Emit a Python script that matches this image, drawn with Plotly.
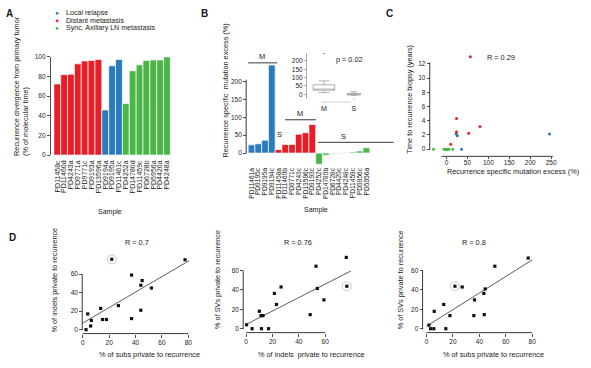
import numpy as np
import plotly.graph_objects as go

W, H = 591, 368
FONT = "Liberation Sans, Arial, sans-serif"
BLUE = "#2a7bbb"
RED = "#e61e27"
GREEN = "#4bb648"
GROUP_COLORS = {"L": BLUE, "D": RED, "S": GREEN}

# ---------------- data ----------------
# Panel A
a_samples = ["PD11458c", "PD11460d", "PD4243a", "PD9771a", "PD9771c", "PD9193a", "PD13596a",
             "PD9194a", "PD9195a", "PD11461c",
             "PD4252a", "PD14780d", "PD11459c", "PD6728b", "PD5956a", "PD4420a", "PD4248a"]
a_values = [72.5, 82, 82.5, 93, 96, 96.5, 97.5,
            46, 91, 97.5,
            52.5, 86, 92, 96.5, 97, 97, 100]
a_groups = ["D"] * 7 + ["L"] * 3 + ["S"] * 7

# Panel B
b_samples = ["PD11461a", "PD9195c", "PD9195a", "PD9194c",
             "PD11458a", "PD11460b", "PD9771c", "PD4243c", "PD13596c", "PD9193c",
             "PD4252c", "PD14780b", "PD6728c", "PD4420c", "PD4248c", "PD11459c", "PD5956c", "PD5956a"]
b_values = [23, 26, 36, 246,
            10, 24, 24, 53, 57, 80,
            -31, -6, -2, -1, 1, 3, 6, 15]
b_groups = ["L"] * 4 + ["D"] * 6 + ["S"] * 8
b_class = ["M"] * 10 + ["S"] * 8
b_pvalue = "p = 0.02"

# Panel C (x = recurrence specific mutation excess, same samples as B)
c_years = [2.15, 1.9, 0.0, 2.15,
           0.7, 4.3, 2.4, 2.25, 13.0, 3.2,
           0.0, 0.0, 0.0, 0.0, 0.0, 0.0, 0.0, 0.0]
c_r = "R = 0.29"

# Panel D
d1_subs = [22, 77.5, 37, 45, 44, 52, 13.6, 27, 44, 3.8, 6.5, 15, 18, 37, 6, 2.5]
d1_indels = [76, 75.5, 59, 53, 48, 45, 23, 26, 21, 17, 10, 11, 11, 12, 4, 0]
d1_circled = [0]
d2_indels = [76, 53, 76.4, 26.5, 21.4, 54, 59, 23, 10, 11.3, 12.8, 48.6, 0.3, 4.5, 11.6, 17]
d2_svs = [73.5, 64.4, 43.8, 43, 36.4, 41.5, 29.7, 25, 18, 13.5, 13.5, 14.5, 4, 0, 0, 0]
d2_circled = [2]
d3_subs = [77, 51.7, 21.5, 27, 44.4, 43.4, 36.3, 13, 5.8, 17.7, 35.8, 43.7, 1.8, 3, 5.5, 14.6]
d3_svs = [72.8, 64.4, 43.8, 43, 41, 36.4, 29.7, 25, 17.9, 13.5, 13.5, 14.5, 3.7, 0, 0, 0]
d3_circled = [2]
d_r = ["R = 0.7", "R = 0.76", "R = 0.8"]

# ---------------- helpers ----------------
def fx(p):
    return p / W


def fy(p):
    return 1 - p / H


TXT = "#1a1a1a"
annotations = []
shapes = []


def note(text, x, y, size=7, angle=0, bold=False, xanchor="center", yanchor="middle", align="center"):
    if bold:
        text = "<b>" + text + "</b>"
    annotations.append(dict(text=text, x=fx(x), y=fy(y), xref="paper", yref="paper",
                            showarrow=False, textangle=angle, xanchor=xanchor, yanchor=yanchor,
                            align=align, font=dict(size=size, family=FONT, color=TXT)))


def pline(x0, y0, x1, y1, color="#222", width=0.9):
    shapes.append(dict(type="line", xref="paper", yref="paper", x0=fx(x0), y0=fy(y0),
                       x1=fx(x1), y1=fy(y1), line=dict(color=color, width=width)))


fig = go.Figure()
layout = dict(width=W, height=H, margin=dict(l=0, r=0, t=0, b=0),
              paper_bgcolor="white", plot_bgcolor="rgba(0,0,0,0)",
              showlegend=False, font=dict(family=FONT, size=7, color=TXT))

tickfont = dict(size=6.5, family=FONT, color=TXT)


def lin_axis(v0_px, scale, rng, pos_px, horizontal, tickvals):
    # domain computed from the pixel of value 0 and px per unit
    if horizontal:
        d = [fx(v0_px + rng[0] * scale), fx(v0_px + rng[1] * scale)]
        pos = fy(pos_px)
    else:
        d = [fy(v0_px - rng[0] * scale), fy(v0_px - rng[1] * scale)]
        pos = fx(pos_px)
    return dict(domain=d, range=rng, anchor="free", position=pos, tickvals=tickvals,
                ticks="outside", ticklen=3, tickwidth=0.8, tickcolor="#222",
                showline=False, showgrid=False, zeroline=False, tickfont=tickfont,
                fixedrange=True)


def cat_axis(cats, x0_px, x1_px, pos_px, size):
    return dict(domain=[fx(x0_px), fx(x1_px)], range=[-0.5, len(cats) - 0.5],
                anchor="free", position=fy(pos_px), tickangle=-90, ticks="",
                tickmode="array", tickvals=cats, ticktext=cats,
                showline=False, showgrid=False, zeroline=False,
                tickfont=dict(size=size, family=FONT, color=TXT), fixedrange=True)


# ---------------- Panel A ----------------
fig.add_trace(go.Bar(x=a_samples, y=a_values, xaxis="x", yaxis="y", width=1,
                     marker=dict(color=[GROUP_COLORS[g] for g in a_groups],
                                 line=dict(color="white", width=0.7))))
layout["xaxis"] = cat_axis(a_samples, 54, 171, 157, 7)
layout["yaxis"] = lin_axis(154, 1.0, [0, 100], 50, False, [0, 20, 40, 60, 80, 100])
layout["yaxis"].update(showline=True, linewidth=0.8, linecolor="#222")

note("A", 10, 10, size=10, bold=True)
legend_items = [("Local relapse", BLUE), ("Distant metastasis", RED),
                ("Sync. Axillary LN metastasis", GREEN)]
for i, (lab, col) in enumerate(legend_items):
    yy = 9.5 + i * 7.7
    shapes.append(dict(type="rect", xref="paper", yref="paper", x0=fx(56), x1=fx(58.5),
                       y0=fy(yy + 1.2), y1=fy(yy - 1.2), line=dict(width=0), fillcolor=col))
    note(lab, 64, yy, size=7.1, xanchor="left")
note("Recurrence divergence from primary tumor<br>(% of molecular time)", 21, 157,
     size=7.3, angle=-90, align="left", yanchor="bottom")
note("Sample", 110, 212, size=7)

# ---------------- Panel B ----------------
BS = 0.365  # px per unit
fig.add_trace(go.Bar(x=b_samples, y=b_values, xaxis="x2", yaxis="y2", width=1,
                     marker=dict(color=[GROUP_COLORS[g] for g in b_groups],
                                 line=dict(color="white", width=0.7))))
b_rng = [-35, 250]
layout["xaxis2"] = cat_axis(b_samples, 249, 371, 152 + 35 * BS, 6.6)
layout["yaxis2"] = lin_axis(152, BS, b_rng, 247, False, [0, 50, 100, 150, 200])
pline(247, 152 + 0.5, 247, 152 - 205 * BS)
note("B", 205, 10, size=10, bold=True)
note("Recurrence specific  mutation excess (%)", 226, 88, size=7.3, angle=-90)
note("Sample", 317, 210, size=7)
# group brackets
pline(249, 60, 278, 60)
note("M", 263, 54, size=7.5)
note("S", 280, 133, size=7.5)
pline(286, 118, 317, 118)
note("M", 301, 112, size=7.5)
pline(319, 141, 395, 141)
note("S", 345, 135, size=7.5)

# inset box plot
m_vals = [v for v, c in zip(b_values, b_class) if c == "M"]
s_vals = [v for v, c in zip(b_values, b_class) if c == "S"]
for name, vals, wd in [("M", m_vals, 0.72), ("S", s_vals, 0.45)]:
    fig.add_trace(go.Box(y=vals, name=name, xaxis="x3", yaxis="y3", width=wd,
                         fillcolor="white", line=dict(color="#9a9a9a", width=0.8),
                         marker=dict(color="#9a9a9a", size=2), boxpoints="outliers"))
IS = 0.17
layout["xaxis3"] = dict(domain=[fx(310), fx(370)], range=[-0.5, 1.5], anchor="free",
                        position=fy(101), ticks="", showline=False, showgrid=False,
                        zeroline=False, tickfont=dict(size=7, family=FONT, color=TXT),
                        fixedrange=True)
layout["yaxis3"] = lin_axis(92, IS, [-(97 - 92) / IS, (92 - 50) / IS], 307, False,
                            [0, 50, 100, 150, 200])
layout["yaxis3"].update(showline=True, linecolor="#999", linewidth=0.8, ticklen=2,
                        tickcolor="#999")
pline(323, 100, 352, 100, color="#cfcfcf", width=1)
note(b_pvalue, 351, 57, size=7.3)

# ---------------- Panel C ----------------
CX, CY = 0.42, 7.25
for g, col in GROUP_COLORS.items():
    xs = [v for v, gg in zip(b_values, b_groups) if gg == g]
    ys = [t for t, gg in zip(c_years, b_groups) if gg == g]
    fig.add_trace(go.Scatter(x=xs, y=ys, mode="markers", xaxis="x4", yaxis="y4",
                             cliponaxis=False, marker=dict(color=col, size=3)))
layout["xaxis4"] = lin_axis(448, CX, [-40, 260], 155.3, True, [0, 50, 100, 150, 200, 250])
layout["xaxis4"].update(ticklen=2, ticklabelstandoff=-2)
layout["yaxis4"] = lin_axis(148, CY, [-1, 13.5], 431.2, False, [0, 2, 4, 6, 8, 10, 12])
pline(448 - 12 * CX, 155.3, 448 + 254 * CX, 155.3)
pline(431.2, 148 + 0.5, 431.2, 148 - 12.2 * CY)
note("C", 391, 10, size=10, bold=True)
note("Time to recurrence biopsy (years)", 411, 97, size=7.3, angle=-90)
note("Recurrence specific mutation excess (%)", 515, 171, size=7.3)
note(c_r, 503, 55, size=7.3)

# ---------------- Panel D ----------------
d_panels = [
    dict(x=d1_subs, y=d1_indels, circ=d1_circled, ax="5", x0=83, xs=1.325, y0=332, ys=0.944,
         xr=[-3, 82], yr=[-4.2, 80], ypos=82.5, xpos=336, xmax=80,
         ytitle="% of indels private to recurrence", ytx=55,
         xtitle="% of subs private to recurrence", xtx=150, r=d_r[0], rx=137),
    dict(x=d2_indels, y=d2_svs, circ=d2_circled, ax="6", x0=247, xs=1.322, y0=331, ys=0.989,
         xr=[-3, 80], yr=[-4, 78], ypos=244, xpos=335, xmax=60,
         ytitle="% of SVs private to recurrence", ytx=218,
         xtitle="% of indels  private to recurrence", xtx=313, r=d_r[1], rx=299),
    dict(x=d3_subs, y=d3_svs, circ=d3_circled, ax="7", x0=428, xs=1.325, y0=331, ys=0.989,
         xr=[-3, 82], yr=[-4, 78], ypos=424, xpos=335, xmax=80,
         ytitle="% of SVs private to recurrence", ytx=402,
         xtitle="% of subs private to recurrence", xtx=495, r=d_r[2], rx=476),
]
for p in d_panels:
    xa, ya = "x" + p["ax"], "y" + p["ax"]
    x = np.array(p["x"], float)
    y = np.array(p["y"], float)
    slope, icpt = np.polyfit(x, y, 1)
    lx = np.linspace(0, x.max() + 3, 20)
    fig.add_trace(go.Scatter(x=lx, y=icpt + slope * lx, mode="lines", xaxis=xa, yaxis=ya,
                             line=dict(color="#333", width=0.8), hoverinfo="skip"))
    fig.add_trace(go.Scatter(x=x[p["circ"]], y=y[p["circ"]], mode="markers", xaxis=xa, yaxis=ya,
                             cliponaxis=False,
                             marker=dict(symbol="circle-open", size=9,
                                         line=dict(color="#c8c8c8", width=1), color="#c8c8c8")))
    fig.add_trace(go.Scatter(x=x, y=y, mode="markers", xaxis=xa, yaxis=ya, cliponaxis=False,
                             marker=dict(color="#111", size=3.2, symbol="square")))
    xticks = [v for v in [0, 20, 40, 60, 80] if v <= p["xmax"]]
    layout["xaxis" + p["ax"]] = lin_axis(p["x0"], p["xs"], p["xr"], p["xpos"], True, xticks)
    layout["yaxis" + p["ax"]] = lin_axis(p["y0"], p["ys"], p["yr"], p["ypos"], False,
                                         [0, 20, 40, 60])
    pline(p["x0"], p["xpos"], p["x0"] + p["xmax"] * p["xs"], p["xpos"])
    pline(p["ypos"], p["y0"] + 0.5, p["ypos"], p["y0"] - 60 * p["ys"])
    note(p["ytitle"], p["ytx"], 281, size=7.3, angle=-90)
    note(p["xtitle"], p["xtx"], 357, size=7.3)
    note(p["r"], p["rx"], 243, size=7.3)
note("D", 13, 238, size=10, bold=True)

layout["annotations"] = annotations
layout["shapes"] = shapes
fig.update_layout(**layout)
fig.write_html("out.html", config={"displayModeBar": False, "staticPlot": True},
               post_script="document.body.style.margin='0px';document.body.style.overflow='hidden';")
